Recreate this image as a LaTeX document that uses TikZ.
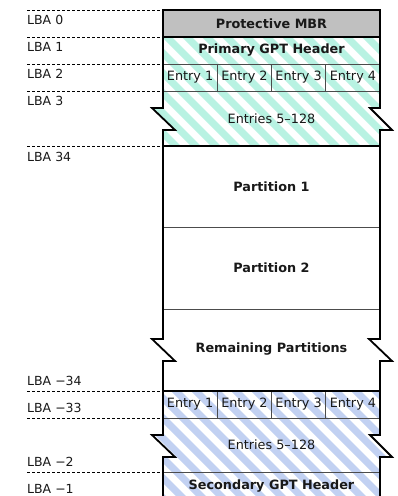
\documentclass[tikz,border=0pt]{standalone}
\usepackage{fontspec}
\setmainfont{DejaVu Sans}
\definecolor{gpteal}{HTML}{B8F2E2}
\definecolor{gptblue}{HTML}{C2D1F2}
\definecolor{mbrgray}{HTML}{C0C0C0}
\newcommand{\hatchfill}[3]{%
  \begin{scope}
    \clip #1;
    \fill[white] (0,0) rectangle (398,520);
    \foreach \k in {#3} \draw[#2, line width=7.07pt] (\k,0) -- ++(600,600);
  \end{scope}}
\begin{document}
\begin{tikzpicture}[x=1pt,y=-1pt,
  outline/.style={line width=1.8pt, line join=miter, draw=black},
  thinline/.style={line width=0.9pt, draw=black!70},
  dashline/.style={dash pattern=on 3pt off 2pt, line width=0.9pt, draw=black},
  lbl/.style={anchor=west, inner sep=0pt, font=\fontsize{12.5}{14}\selectfont, text=black!90},
  boxtext/.style={inner sep=0pt, font=\fontsize{12.8}{14}\selectfont, text=black!90},
  boldtext/.style={inner sep=0pt, font=\fontsize{12.8}{14}\selectfont\bfseries, text=black!90}]
\useasboundingbox (0,0) rectangle (398,496);
\fill[white] (0,0) rectangle (398,496);

% ---------- Protective MBR ----------
\filldraw[fill=mbrgray, outline] (163,10) rectangle (380,37);
\node[boldtext] (mbr) at (271.5,23.5) {Protective MBR};

% ---------- Primary GPT ----------
\def\primpath{(163,37) -- (380,37) -- (380,108) -- (370,108) -- (392,130) -- (380,130) -- (380,146) -- (163,146) -- (163,130) -- (175,130) -- (152,108) -- (163,108) -- cycle}
\hatchfill{\primpath}{gpteal}{-590,-570,...,410}
\draw[thinline] (163,64) -- (380,64);
\draw[thinline] (163,91) -- (380,91);
\foreach \xx in {217.25,271.5,325.75} \draw[thinline] (\xx,64) -- (\xx,91);
\draw[outline] \primpath;
\node[boldtext] (pgh) at (271.5,50.5) {Primary GPT Header};
\node[boxtext] (pe1) at (190.1,77.5) {Entry 1};
\node[boxtext] (pe2) at (244.4,77.5) {Entry 2};
\node[boxtext] (pe3) at (298.6,77.5) {Entry 3};
\node[boxtext] (pe4) at (352.9,77.5) {Entry 4};
\node[boxtext] (pe5) at (271.5,118.5) {Entries 5–128};

% ---------- Partitions ----------
\def\partpath{(163,146) -- (380,146) -- (380,339) -- (369,339) -- (392,361) -- (380,361) -- (380,391) -- (163,391) -- (163,361) -- (175,361) -- (152,339) -- (163,339) -- cycle}
\fill[white] \partpath;
\draw[thinline] (163,227) -- (380,227);
\draw[thinline] (163,309) -- (380,309);
\draw[outline] \partpath;
\node[boldtext] (p1) at (271.5,186.5) {Partition 1};
\node[boldtext] (p2) at (271.5,268) {Partition 2};
\node[boldtext] (prem) at (271.5,349) {Remaining Partitions};

% ---------- Secondary GPT ----------
\def\secpath{(163,391) -- (380,391) -- (380,435) -- (370,435) -- (392,457) -- (380,457) -- (380,500) -- (163,500) -- (163,457) -- (175,457) -- (152,435) -- (163,435) -- cycle}
\hatchfill{\secpath}{gptblue}{-595,-575,...,405}
\draw[thinline] (163,418) -- (380,418);
\draw[thinline] (163,472) -- (380,472);
\foreach \xx in {217.25,271.5,325.75} \draw[thinline] (\xx,391) -- (\xx,418);
\draw[outline] \secpath;
\node[boxtext] (se1) at (190.1,404.5) {Entry 1};
\node[boxtext] (se2) at (244.4,404.5) {Entry 2};
\node[boxtext] (se3) at (298.6,404.5) {Entry 3};
\node[boxtext] (se4) at (352.9,404.5) {Entry 4};
\node[boxtext] (se5) at (271.5,445) {Entries 5–128};
\node[boldtext] (sgh) at (271.5,486) {Secondary GPT Header};

% ---------- LBA dashed lines ----------
\foreach \yy/\nm in {10/a,37/b,64/c,91/d,146/e,391/f,418/g,472/h} {
  \coordinate (dl\nm) at (27,\yy);
  \coordinate (dr\nm) at (163,\yy);
  \draw[dashline] (dl\nm) -- (dr\nm);
}

% ---------- LBA labels ----------
\node[lbl] (l0) at (27,20) {LBA 0};
\node[lbl] (l1) at (27,47) {LBA 1};
\node[lbl] (l2) at (27,74) {LBA 2};
\node[lbl] (l3) at (27,101) {LBA 3};
\node[lbl] (l34) at (27,157) {LBA 34};
\node[lbl] (lm34) at (27,381) {LBA −34};
\node[lbl] (lm33) at (27,408) {LBA −33};
\node[lbl] (lm2) at (27,462) {LBA −2};
\node[lbl] (lm1) at (27,489) {LBA −1};
\end{tikzpicture}
\end{document}
